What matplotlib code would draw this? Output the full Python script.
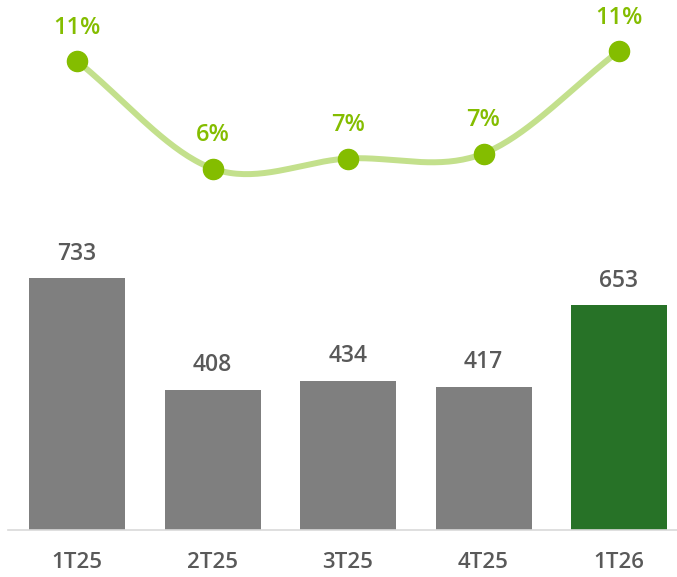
import numpy as np
import matplotlib
matplotlib.use("Agg")
import matplotlib.pyplot as plt

categories = ["1T25", "2T25", "3T25", "4T25", "1T26"]
revenue = [733, 408, 434, 417, 653]
margin_pct = [10.6, 6.3, 6.7, 6.9, 11.0]
margin_labels = ["11%", "6%", "7%", "7%", "11%"]
bar_colors = ["#7F7F7F", "#7F7F7F", "#7F7F7F", "#7F7F7F", "#277227"]

plt.rcParams['font.family'] = ['Open Sans', 'DejaVu Sans']

W, H = 677, 577
fig = plt.figure(figsize=(W / 100, H / 100), dpi=100)
ax = fig.add_axes([0, 0, 1, 1])
ax2 = fig.add_axes([0, 0, 1, 1], sharex=ax)
ax2.patch.set_visible(False)

x = np.arange(len(categories))
spacing = 135.5
xl = -77 / spacing
ax.set_xlim(xl, xl + W / spacing)

# bars
ppu = 0.3438
base = 47
ax.set_ylim(-base / ppu, (H - base) / ppu)
ax.bar(x, revenue, width=96 / spacing, color=bar_colors, zorder=2)
for xi, v in zip(x, revenue):
    ax.annotate(str(v), (xi, v), xytext=(0, 17.5), textcoords="offset points",
                ha="center", va="center", fontsize=16.5, color="#595959",
                fontweight="semibold")
# baseline
ax.plot([xl + 8 / spacing, xl + W / spacing], [0, 0], color="#D9D9D9", lw=1.2, zorder=3)
# category labels
for xi, c in zip(x, categories):
    ax.annotate(c, (xi, 0), xytext=(0, -23.5), textcoords="offset points",
                ha="center", va="center", fontsize=16, color="#595959",
                fontweight="semibold")

# line axis
s = 25.0
ax2.set_ylim(-251 / s, (H - 251) / s)

fig.canvas.draw()
# smooth curve (Catmull-Rom in display coords)
pts = ax2.transData.transform(np.column_stack([x, margin_pct]))
P = np.vstack([pts[0] - (pts[1] - pts[0]), pts, pts[-1] + (pts[-1] - pts[-2])])
curve = []
t = np.linspace(0, 1, 40)
for i in range(1, len(P) - 2):
    p0, p1, p2, p3 = P[i - 1], P[i], P[i + 1], P[i + 2]
    for tt in t:
        tt2, tt3 = tt * tt, tt * tt * tt
        pt = 0.5 * ((2 * p1) + (-p0 + p2) * tt + (2 * p0 - 5 * p1 + 4 * p2 - p3) * tt2
                    + (-p0 + 3 * p1 - 3 * p2 + p3) * tt3)
        curve.append(pt)
curve = ax2.transData.inverted().transform(np.array(curve))
ax2.plot(curve[:, 0], curve[:, 1], color="#C3E08C", lw=4.3, solid_capstyle="round", zorder=3)
ax2.plot(x, margin_pct, "o", color="#84BD00", markersize=14.5, zorder=4)
for xi, v, lab in zip(x, margin_pct, margin_labels):
    ax2.annotate(lab, (xi, v), xytext=(0, 24), textcoords="offset points",
                 ha="center", va="center", fontsize=17, color="#84BD00",
                 fontweight="semibold")

for a in (ax, ax2):
    a.axis("off")

fig.savefig("out.png", dpi=100)
